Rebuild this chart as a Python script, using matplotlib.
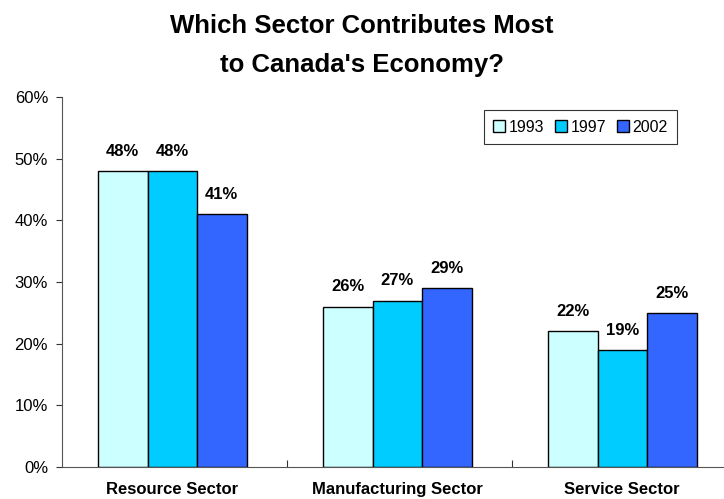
import matplotlib

matplotlib.use("Agg")
import matplotlib.pyplot as plt
import numpy as np
from matplotlib.ticker import FuncFormatter

plt.rcParams["font.family"] = ["Liberation Sans", "DejaVu Sans"]

sectors = ["Resource Sector", "Manufacturing Sector", "Service Sector"]
years = ["1993", "1997", "2002"]
share_1993 = [48, 26, 22]
share_1997 = [48, 27, 19]
share_2002 = [41, 29, 25]
colors = ["#CCFFFF", "#00CCFF", "#3366FF"]

fig = plt.figure(figsize=(7.24, 4.99), dpi=100)
# axis runs a little past the right edge of the canvas
ax = fig.add_axes([62 / 724, 1 - 467 / 499, 675 / 724, 370 / 499])

x = np.arange(len(sectors))
width = 0.22
for i, (year, vals, col) in enumerate(zip(years, [share_1993, share_1997, share_2002], colors)):
    pos = x + (i - 1) * width - 0.01
    ax.bar(pos, vals, width, color=col, edgecolor="black", linewidth=1.0, label=year)
    for p, v in zip(pos, vals):
        ax.annotate(f"{v}%", (p, v), xytext=(0, 11), textcoords="offset points",
                    ha="center", va="baseline", fontsize=12, fontweight="bold")

ax.set_xlim(-0.5, 2.5)
ax.set_ylim(0, 60)
ax.set_yticks(range(0, 61, 10))
ax.yaxis.set_major_formatter(FuncFormatter(lambda v, _: f"{v:.0f}%"))
ax.set_xticks([0.5, 1.5])
ax.set_xticklabels([])
ax.tick_params(axis="x", direction="in", length=5, color="#333333")
ax.tick_params(axis="y", direction="out", length=4, pad=6, labelsize=12, color="#333333")
for pos in ["top", "right"]:
    ax.spines[pos].set_visible(False)
for pos in ["left", "bottom"]:
    ax.spines[pos].set_color("#555555")

for xi, name in zip(x, sectors):
    ax.annotate(name, (xi - 0.01, 0), xytext=(0, -16.5), textcoords="offset points",
                ha="center", va="center", fontsize=12, fontweight="bold")

fig.text(0.5, 1 - 33 / 499, "Which Sector Contributes Most", ha="center",
         va="baseline", fontsize=18.5, fontweight="bold")
fig.text(0.5, 1 - 72 / 499, "to Canada's Economy?", ha="center",
         va="baseline", fontsize=18.5, fontweight="bold")

leg = ax.legend(ncol=3, loc="upper right", bbox_to_anchor=(615 / 675, 357 / 370),
                fontsize=11.5, frameon=True, fancybox=False, handlelength=0.75,
                handleheight=0.75, handletextpad=0.2, columnspacing=0.7,
                borderpad=0.6, borderaxespad=0)
leg.get_frame().set_edgecolor("black")
leg.get_frame().set_linewidth(0.8)

fig.savefig("out.png", dpi=100)
